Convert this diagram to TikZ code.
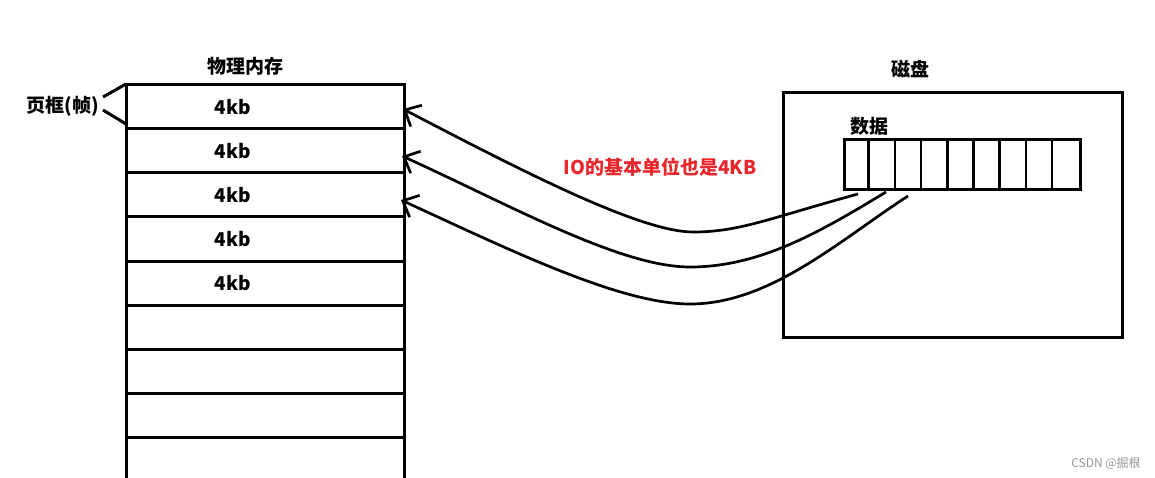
\documentclass[tikz,border=0pt]{standalone}
\usepackage{fontspec}
\setmainfont{Noto Sans CJK SC}
\usetikzlibrary{positioning,arrows.meta,calc}
\definecolor{iored}{RGB}{232,38,44}
\definecolor{markgray}{RGB}{150,150,150}

\begin{document}
\begin{tikzpicture}[x=1pt,y=-1pt,font=\fontsize{19}{22}\selectfont\bfseries,
  cell/.style={draw,line width=3pt,minimum width=278pt,minimum height=44pt,inner sep=0pt},
  io/.style={line width=2.7pt,-{Straight Barb[length=13pt,width=24pt]}}]
\useasboundingbox (0,0) rectangle (1155,478);
% Memory frames
\foreach \i in {1,...,9} \node[cell] (m\i) at (265,63+44*\i) {};
\foreach \i in {1,...,5} \node (kb\i) at ([xshift=-32pt]m\i.center) {4kb};
\node (mem) at (245,66) {物理内存};
% Frame brace
\node (frame) at (63,106) {页框(帧)};
\draw[line width=3pt] (126,84) -- (103,97);
\draw[line width=3pt] (103,110) -- (126,124);
% Disk
\node[draw,line width=3pt,minimum width=339pt,minimum height=244pt,inner sep=0pt] (disk) at (952.5,215) {};
\node (disklbl) at (910,69) {磁盘};
\node[draw,line width=3pt,minimum width=236pt,minimum height=50pt,inner sep=0pt] (blk) at (962,165) {};
\node (data) at (869,126) {数据};
\foreach \k in {1,...,8}
  \draw[line width=2.7pt] ($(blk.north west)+(26.2*\k,0)$) -- ($(blk.south west)+(26.2*\k,0)$);
% IO arrows
\coordinate (d1) at (858,194);
\coordinate (d2) at (886,192);
\coordinate (d3) at (908,196);
\coordinate (e1) at (403,109);
\coordinate (e2) at (402,156);
\coordinate (e3) at (401,200);
\draw[io] (d1) .. controls (770,218) and (740,232) .. (693,232) .. controls (640,232) and (520,170) .. (e1);
\draw[io] (d2) .. controls (820,232) and (760,267) .. (690,267) .. controls (620,267) and (510,205) .. (e2);
\draw[io] (d3) .. controls (840,240) and (770,304) .. (690,304) .. controls (620,304) and (510,250) .. (e3);
\node[text=iored] (iolbl) at (660,167) {IO的基本单位也是4KB};
% Watermark
\node[font=\fontsize{12}{14}\selectfont,text=markgray] (mark) at (1106,463) {CSDN @掘根};
\end{tikzpicture}
\end{document}
